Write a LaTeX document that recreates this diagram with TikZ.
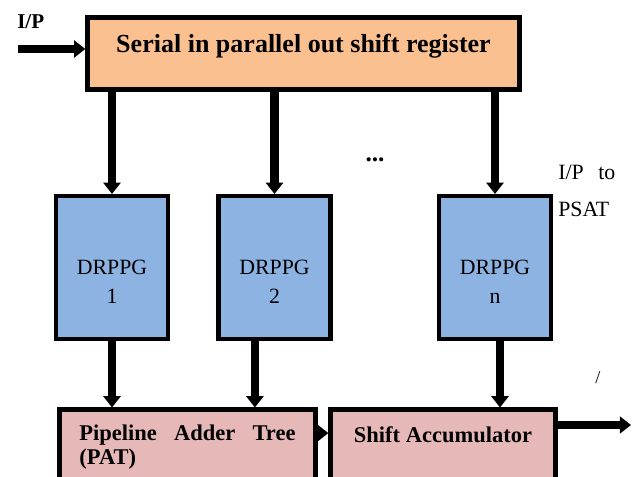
\documentclass[tikz,border=0pt]{standalone}
\usepackage{fontspec}
\setmainfont{Liberation Serif}
\usetikzlibrary{arrows.meta,positioning}
\definecolor{sipoorange}{RGB}{250,192,143}
\definecolor{ppgblue}{RGB}{141,179,226}
\definecolor{accpink}{RGB}{230,185,184}

\begin{document}
\begin{tikzpicture}[x=0.025cm, y=-0.025cm,
    block/.style={rectangle, draw=black, line width=3pt, inner sep=0pt},
    sipo/.style={block, fill=sipoorange, minimum width=10.8cm, minimum height=1.8cm, font=\fontsize{18.5}{22}\selectfont\bfseries, text height=10pt, text depth=12pt},
    ppg/.style={block, fill=ppgblue, anchor=north, text width=2.8cm, align=center, text height=56pt, text depth=45.5pt, font=\fontsize{15.5}{20.6}\selectfont},
    adder/.style={block, fill=accpink, anchor=north, text height=21.7pt, text depth=40pt, font=\fontsize{16}{17.5}\selectfont\bfseries},
    flow/.style={line width=6pt, -{Triangle[length=8pt,width=12pt]}},
    note/.style={font=\fontsize{15.5}{26.3}\selectfont, inner sep=0pt}
  ]
    \path[use as bounding box, clip] (0,0) rectangle (632,477);

    \node[sipo] (sipo) at (303.5,53.5) {Serial in parallel out shift register};
    \node[note, font=\fontsize{15}{18}\selectfont\bfseries, anchor=base west] (iplabel) at (17,29) {I/P};
    \coordinate (ip) at (18,49);

    \node[ppg] (d1) at (112,194) {DRPPG\\1};
    \node[ppg] (d2) at (274.5,194) {DRPPG\\2};
    \node[ppg] (dn) at (495,194) {DRPPG\\n};
    \node[note, font=\fontsize{18}{20}\selectfont\bfseries] (dots) at (375,160) {...};
    \node[note, anchor=base west, text width=1.425cm, align=left] (psat) at (558,180) {I/P\hfill to\\PSAT};

    \node[adder, minimum width=6.4cm, text width=5.4cm, inner xsep=0.5cm, align=left] (pat) at (187.5,407.5) {Pipeline\hfill Adder\hfill Tree\\(PAT)};
    \node[adder, minimum width=5.625cm, text height=23.1pt] (acc) at (443,407.5) {Shift Accumulator};
    \node[note, font=\fontsize{13}{15}\selectfont] (slash) at (598,378) {/};
    \coordinate (out) at (631,425);

    \draw[flow] (ip) -- (ip -| sipo.west);
    \foreach \k in {1,2,n}
      \draw[flow] (sipo.south -| d\k.north) -- (d\k.north);

    \draw[flow] (d1.south) -- (d1.south |- pat.north);
    \draw[flow] ([xshift=-0.49cm]d2.south) -- ([xshift=-0.49cm]d2.south |- pat.north);
    \draw[flow] ([xshift=0.125cm]dn.south) -- ([xshift=0.125cm]dn.south |- acc.north);
    \draw[flow] ([yshift=-0.64cm]pat.north east) -- ([yshift=-0.64cm]acc.north west);
    \draw[flow] (acc.east |- out) -- (out);
  \end{tikzpicture}
\end{document}
